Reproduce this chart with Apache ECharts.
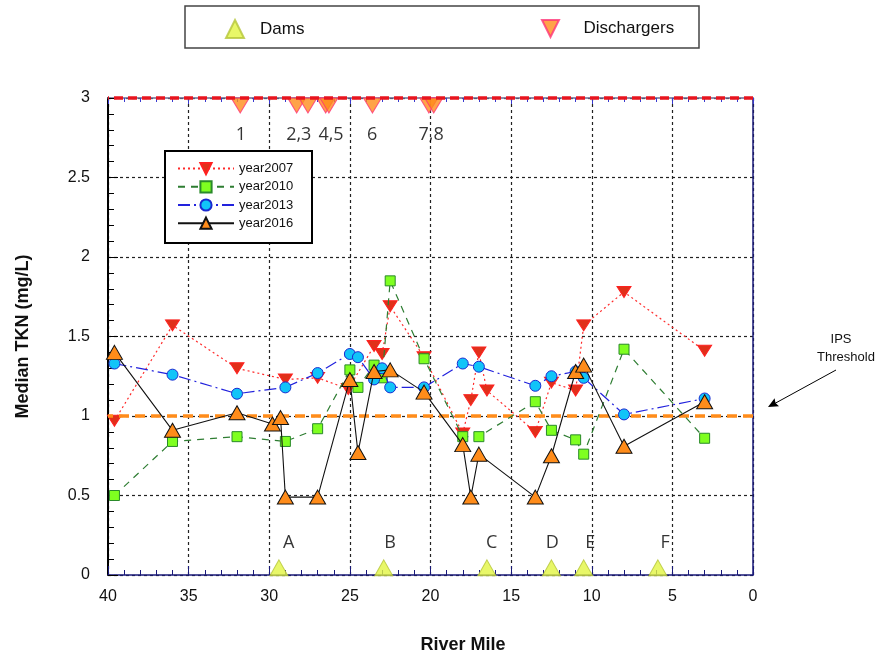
<!DOCTYPE html>
<html><head><meta charset="utf-8">
<script src="https://cdn.jsdelivr.net/npm/echarts/dist/echarts.min.js"></script>
<style>html,body{margin:0;padding:0;background:#fff}#c{width:888px;height:659px}</style>
</head><body><div id="c"></div>
<script>
// ---- data ----
const miles2007 = [39.6,36.0,32.0,29.0,27.0,25.1,23.5,23.0,22.5,20.4,18.0,17.5,17.0,16.5,13.5,12.5,11.0,10.5,8.0,3.0];
const tkn2007   = [0.97,1.57,1.30,1.23,1.24,1.17,1.44,1.39,1.69,1.37,0.89,1.10,1.40,1.16,0.90,1.21,1.16,1.57,1.78,1.41];
const miles2010 = [39.6,36.0,32.0,29.0,27.0,25.0,24.5,23.5,23.0,22.5,20.4,18.0,17.0,13.5,12.5,11.0,10.5,8.0,3.0];
const tkn2010   = [0.50,0.84,0.87,0.84,0.92,1.29,1.18,1.32,1.24,1.85,1.36,0.87,0.87,1.09,0.91,0.85,0.76,1.42,0.86];
const miles2013 = [39.6,36.0,32.0,29.0,27.0,25.0,24.5,23.5,23.0,22.5,20.4,18.0,17.0,13.5,12.5,11.0,10.5,8.0,3.0];
const tkn2013   = [1.33,1.26,1.14,1.18,1.27,1.39,1.37,1.23,1.30,1.18,1.18,1.33,1.31,1.19,1.25,1.28,1.24,1.01,1.11];
const miles2016 = [39.6,36.0,32.0,29.8,29.3,29.0,27.0,25.0,24.5,23.5,22.5,20.4,18.0,17.5,17.0,13.5,12.5,11.0,10.5,8.0,3.0];
const tkn2016   = [1.40,0.91,1.02,0.95,0.99,0.49,0.49,1.23,0.77,1.28,1.29,1.15,0.82,0.49,0.76,0.49,0.75,1.28,1.32,0.81,1.09];

const damMiles = [29.4,22.9,16.5,12.5,10.5,5.9];
const damLevel = 0.045;
const damLabels = ['A','B','C','D','E','F'];
const damLabelMiles = [28.8,22.5,16.2,12.45,10.1,5.45];
const damLabelLevel = 0.2;

const dischargerMiles = [31.8,28.3,27.6,26.5,26.3,23.6,20.1,19.8];
const dischargerLevel = 2.953;
const dischargerLabels = ['1','2,3','4,5','6','7,8'];
const dischargerLabelMiles = [31.76,28.17,26.17,23.62,19.96];
const dischargerLabelLevel = 2.765;

const threshold = 1.0;
const xTicks = {min:0, max:40, interval:5};
const yTicks = {min:0, max:3, interval:0.5};

// ---- chart ----
const font = 'Arial, "Liberation Sans", sans-serif';
const navy = '#1a1a7a';
const downTri = 'path://M0,0L10,0L5,10Z';
function pts(xs, ys){ return xs.map((x,i)=>[x, ys[i]]); }

const chart = echarts.init(document.getElementById('c'), null, {renderer:'canvas'});
const option = {
  animation:false,
  textStyle:{fontFamily:font},
  grid:{left:108, right:135, top:98, bottom:81},
  xAxis:[{
    type:'value', inverse:true, min:xTicks.min, max:xTicks.max, interval:xTicks.interval, position:'bottom',
    axisLine:{show:true, onZero:false, lineStyle:{color:navy, width:1.5}},
    axisTick:{show:true, inside:true, length:9, lineStyle:{color:navy}},
    minorTick:{show:true, splitNumber:5, length:5, lineStyle:{color:navy}},
    axisLabel:{fontSize:16, color:'#111', margin:14, fontFamily:font},
    splitLine:{show:true, lineStyle:{color:'#222', type:[3,3], width:1.2}},
    name:'River Mile', nameLocation:'middle', nameGap:61,
    nameTextStyle:{fontSize:18, fontWeight:'bold', color:'#111', fontFamily:font, padding:[0,0,0,65]}
  },{
    type:'value', inverse:true, min:xTicks.min, max:xTicks.max, interval:xTicks.interval, position:'top',
    axisLine:{show:true, onZero:false, lineStyle:{color:'#6a6a90', width:1.5}},
    axisTick:{show:true, inside:true, length:6, lineStyle:{color:'#3a3ad0'}},
    minorTick:{show:true, splitNumber:5, length:4, lineStyle:{color:'#3a3ad0'}},
    axisLabel:{show:false}, splitLine:{show:false}
  }],
  yAxis:[{
    type:'value', min:yTicks.min, max:yTicks.max, interval:yTicks.interval, position:'left',
    axisLine:{show:true, onZero:false, lineStyle:{color:'#000', width:2}},
    axisTick:{show:true, inside:true, length:10, lineStyle:{color:'#000'}},
    minorTick:{show:true, splitNumber:5, length:6, lineStyle:{color:'#000'}},
    axisLabel:{fontSize:16, color:'#111', margin:18, fontFamily:font},
    splitLine:{show:true, lineStyle:{color:'#222', type:[3,3], width:1.2}},
    name:'Median TKN (mg/L)', nameLocation:'middle', nameGap:76,
    nameTextStyle:{fontSize:18, fontWeight:'bold', color:'#111', fontFamily:font}
  },{
    type:'value', min:yTicks.min, max:yTicks.max, interval:yTicks.interval, position:'right',
    axisLine:{show:true, onZero:false, lineStyle:{color:navy, width:1.5}},
    axisTick:{show:false}, minorTick:{show:false}, axisLabel:{show:false}, splitLine:{show:false}
  }],
  legend:[
    {data:['Dams'], left:225, top:19, padding:0, itemWidth:18, itemHeight:18, selectedMode:false,
     textStyle:{fontSize:17, color:'#111', fontFamily:font, padding:[0,0,0,11]}},
    {data:['Dischargers'], left:541, top:19, padding:0, itemWidth:18, itemHeight:17, selectedMode:false,
     textStyle:{fontSize:17, color:'#111', fontFamily:font, padding:[0,0,0,19]}},
    {data:['year2007','year2010','year2013','year2016'], orient:'vertical', left:177, top:162, padding:0,
     itemWidth:56, itemHeight:14, itemGap:5, selectedMode:false,
     textStyle:{fontSize:13, color:'#111', fontFamily:font}}
  ],
  graphic:[
    {type:'rect', z:3, shape:{x:185, y:6, width:514, height:42}, style:{fill:'none', stroke:'#444', lineWidth:1.5}},
    {type:'rect', z:3, shape:{x:165, y:151, width:147, height:92}, style:{fill:'#fff', stroke:'#000', lineWidth:2}},
    {type:'text', z:3, x:841, y:339, style:{text:'IPS', font:'13px '+font, fill:'#111', textAlign:'center', textVerticalAlign:'middle'}},
    {type:'text', z:3, x:846, y:357, style:{text:'Threshold', font:'13px '+font, fill:'#111', textAlign:'center', textVerticalAlign:'middle'}},
    {type:'line', z:3, shape:{x1:836, y1:370, x2:772, y2:405}, style:{stroke:'#000', lineWidth:1}},
    {type:'polygon', z:3, shape:{points:[[768,407],[779,406.2],[775.5,403],[774.6,398.3]]}, style:{fill:'#000'}}
  ],
  series:[
    {name:'Dams', type:'scatter', data:damMiles.map(m=>[m, damLevel]), symbol:'triangle', symbolSize:[18,16],
     itemStyle:{color:'#e2f542', borderColor:'#b5c53a', borderWidth:1}, z:3,
     markLine:{silent:true, symbol:'none', label:{show:false}, animation:false,
       data:[{yAxis:threshold, lineStyle:{color:'#ff8c1a', width:3.5, type:[10,6]}}]}},
    {name:'Dischargers', type:'scatter', data:dischargerMiles.map(m=>[m, dischargerLevel]), symbol:downTri, symbolSize:[18,15],
     itemStyle:{color:'#ff8c1a', borderColor:'#ff3377', borderWidth:1}, z:3,
     markLine:{silent:true, symbol:'none', label:{show:false}, animation:false,
       data:[{yAxis:yTicks.max, lineStyle:{color:'#e8141e', width:3.5, type:[9,5]}}]}},
    {name:'damLabels', type:'scatter', data:damLabelMiles.map((m,i)=>({value:[m, damLabelLevel], name:damLabels[i]})),
     symbolSize:1, itemStyle:{color:'rgba(0,0,0,0)'}, silent:true,
     label:{show:true, position:'inside', formatter:'{b}', fontSize:18, color:'#000', fontFamily:'"Open Sans", sans-serif'}},
    {name:'dischargerLabels', type:'scatter', data:dischargerLabelMiles.map((m,i)=>({value:[m, dischargerLabelLevel], name:dischargerLabels[i]})),
     symbolSize:1, itemStyle:{color:'rgba(0,0,0,0)'}, silent:true,
     label:{show:true, position:'inside', formatter:'{b}', fontSize:18, color:'#000', fontFamily:'"Open Sans", sans-serif'}},
    {name:'year2007', type:'line', data:pts(miles2007, tkn2007), symbol:downTri, symbolSize:[14,11], z:4,
     lineStyle:{color:'#ff2a2a', width:1.2, type:[2,3]},
     itemStyle:{color:'#e0301a', borderColor:'#ff2020', borderWidth:1}},
    {name:'year2010', type:'line', data:pts(miles2010, tkn2010), symbol:'rect', symbolSize:10, z:5,
     lineStyle:{color:'#2e7d32', width:1.2, type:[7,6]},
     itemStyle:{color:'#7fff20', borderColor:'#2a8a2a', borderWidth:1}},
    {name:'year2013', type:'line', data:pts(miles2013, tkn2013), symbol:'circle', symbolSize:11, z:6,
     lineStyle:{color:'#2222dd', width:1.2, type:[12,4,2,4]},
     itemStyle:{color:'#11c4f8', borderColor:'#1a2ad0', borderWidth:1}},
    {name:'year2016', type:'line', data:pts(miles2016, tkn2016), symbol:'triangle', symbolSize:[16,14], z:7,
     lineStyle:{color:'#111', width:1.1, type:'solid'},
     itemStyle:{color:'#ff8c1a', borderColor:'#111', borderWidth:1}}
  ]
};
chart.setOption(option);
</script>
</body></html>
